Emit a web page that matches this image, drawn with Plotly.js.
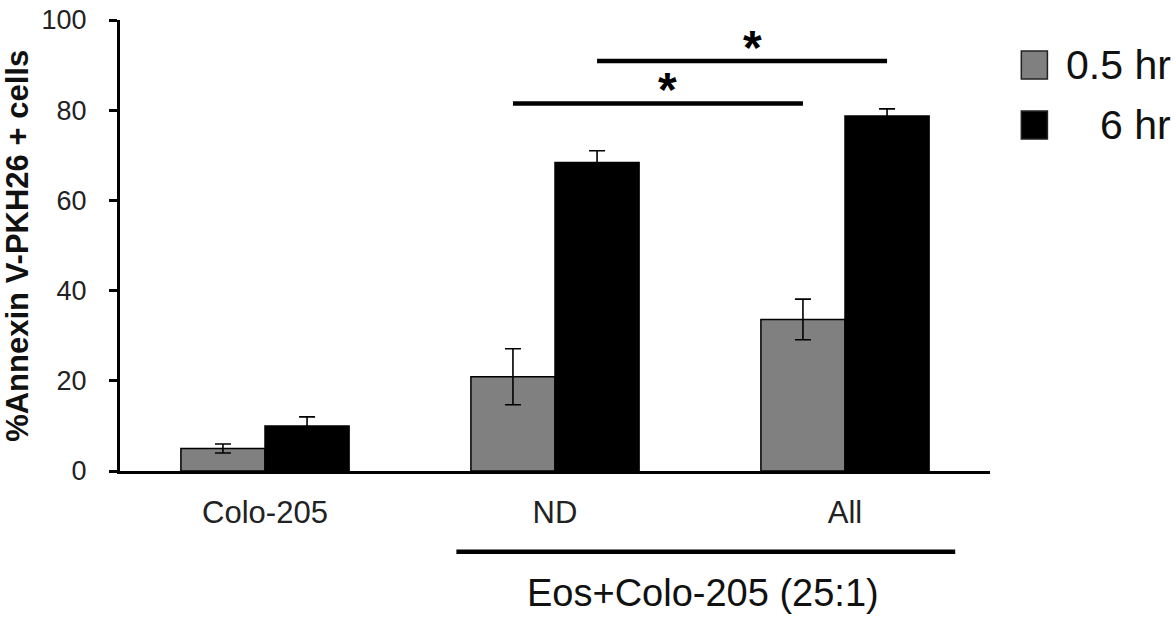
<!DOCTYPE html>
<html><head><meta charset="utf-8">
<script src="https://cdn.plot.ly/plotly-3.0.1.min.js"></script>
<style>html,body{margin:0;padding:0;background:#fff}#chart{width:1176px;height:618px}</style>
</head><body><div id="chart"></div>
<script>
// ---- data ----
const categories = ['Colo-205', 'ND', 'All'];
const seriesNames = ['0.5 hr', '6 hr'];
const values05 = [5.0, 20.9, 33.6];
const errors05 = [1.0, 6.2, 4.5];
const values6 = [10.0, 68.4, 78.7];
const errors6 = [2.0, 2.6, 1.6];
const yTicks = [0, 20, 40, 60, 80, 100];
const groupLabel = 'Eos+Colo-205 (25:1)';
const yTitle = '%Annexin V-PKH26 + cells';
const sigLabels = ['*', '*'];

// ---- styling ----
const FONT = 'Liberation Sans, Arial, sans-serif';
const colors = ['#808080', '#000000'];
const bargap = 0.42;
const barOffset = (1 - bargap) / 4; // centre offset of each bar within a group

const errStyle = {type: 'data', visible: true, color: '#000', thickness: 1.6, width: 8};

const traces = [
  {type: 'bar', x: categories, y: values05, name: seriesNames[0],
   marker: {color: colors[0], line: {color: '#000', width: 1.5}},
   error_y: Object.assign({array: errors05}, errStyle), showlegend: false},
  {type: 'bar', x: categories, y: values6, name: seriesNames[1],
   marker: {color: colors[1], line: {color: '#000', width: 1.5}},
   error_y: Object.assign({array: errors6}, errStyle), showlegend: false}
];

const iND = categories.indexOf('ND');
const iAll = categories.indexOf('All');
// significance comparisons: ND vs All for each series
const sig = [
  {x0: iND - barOffset, x1: iAll - barOffset, y: 81.5, label: sigLabels[0]},
  {x0: iND + barOffset, x1: iAll + barOffset, y: 90.9, label: sigLabels[1]}
];

const shapes = [];
const annotations = [];
sig.forEach(s => {
  shapes.push({type: 'line', xref: 'x', yref: 'y', x0: s.x0, x1: s.x1, y0: s.y, y1: s.y,
               line: {color: '#000', width: 4.5}});
  annotations.push({xref: 'x', yref: 'y', x: (s.x0 + s.x1) / 2, y: s.y, yanchor: 'bottom',
                    xshift: 10, yshift: -15, text: s.label, showarrow: false,
                    font: {family: FONT, size: 48, color: '#000', weight: 'bold'}});
});

// group bracket under ND / All
shapes.push({type: 'line', xref: 'x', yref: 'paper', x0: iND - 0.34, x1: iAll + 0.38,
             y0: -0.179, y1: -0.179, line: {color: '#000', width: 4.5}});
annotations.push({xref: 'x', yref: 'paper', x: (iND + iAll) / 2 + 0.01, y: -0.27,
                  yanchor: 'middle', text: groupLabel, showarrow: false,
                  font: {family: FONT, size: 38, color: '#111'}});

// y title
annotations.push({xref: 'paper', yref: 'paper', x: -0.118, y: 0.50, xanchor: 'center',
                  yanchor: 'middle', textangle: -90, text: yTitle, showarrow: false,
                  font: {family: FONT, size: 31, color: '#111', weight: 'bold'}});

// custom legend
const legY = [0.90, 0.767];
seriesNames.forEach((n, i) => {
  shapes.push({type: 'rect', xref: 'paper', yref: 'paper',
               x0: 1.036, x1: 1.066, y0: legY[i] - 0.031, y1: legY[i] + 0.031,
               fillcolor: colors[i], line: {color: '#222', width: 1.5}});
  annotations.push({xref: 'paper', yref: 'paper', x: 1.21, y: legY[i], xanchor: 'right',
                    yanchor: 'middle', text: n, showarrow: false,
                    font: {family: FONT, size: 41, color: '#111'}});
});

const layout = {
  width: 1176, height: 618,
  margin: {l: 120, r: 186, t: 20, b: 147},
  paper_bgcolor: '#fff', plot_bgcolor: '#fff',
  barmode: 'group', bargap: bargap, bargroupgap: 0,
  showlegend: false,
  font: {family: FONT, color: '#111'},
  xaxis: {type: 'category', range: [-0.5, 2.5], showline: true, linecolor: '#000', linewidth: 3,
          ticks: '', showgrid: false, zeroline: false, tickfont: {size: 31, color: '#222'},
          ticklabelstandoff: 12, fixedrange: true},
  yaxis: {range: [0, 100], tickvals: yTicks, showline: true, linecolor: '#000', linewidth: 3,
          ticks: 'outside', ticklen: 8, tickwidth: 3, tickcolor: '#000', showgrid: false,
          zeroline: false, tickfont: {size: 27, color: '#222'}, ticklabelstandoff: 17,
          fixedrange: true},
  shapes: shapes,
  annotations: annotations
};

Plotly.newPlot('chart', traces, layout, {displayModeBar: false, staticPlot: true});
</script>
</body></html>
